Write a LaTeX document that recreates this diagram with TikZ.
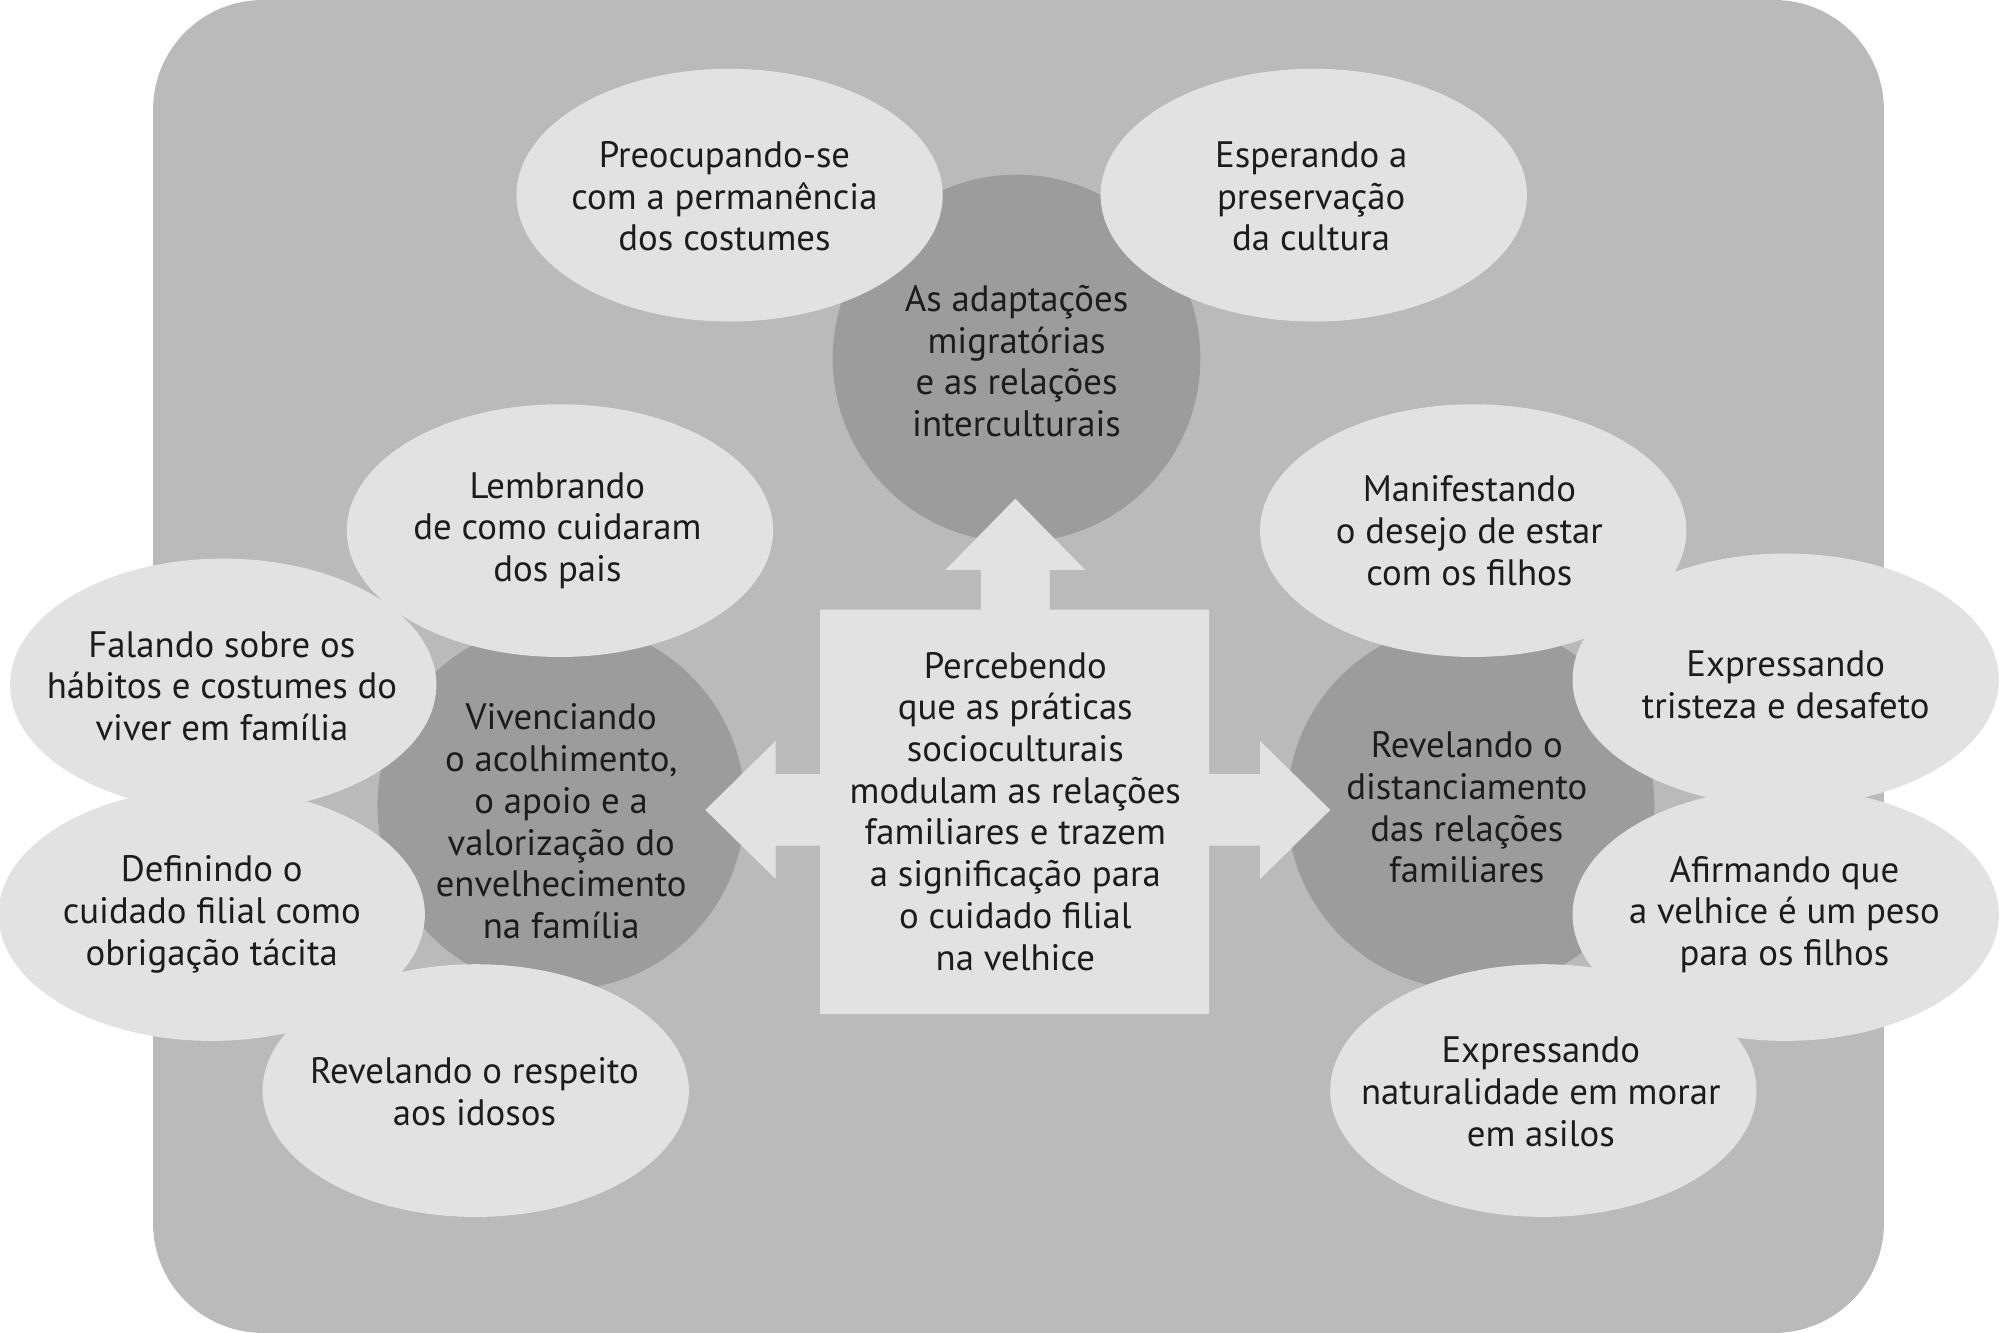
\documentclass[tikz,border=0pt]{standalone}
\usepackage{fontspec}
\setmainfont{PT Sans}
\usetikzlibrary{shapes.geometric}
\definecolor{bgc}{HTML}{BABABA}
\definecolor{lightc}{HTML}{E2E2E2}
\definecolor{darkc}{HTML}{9C9C9C}
\definecolor{txtc}{HTML}{1C1C1C}
\begin{document}
\begin{tikzpicture}[x=0.01cm,y=-0.01cm,
  lightell/.style={ellipse, fill=lightc, minimum width=3.34cm, minimum height=1.98cm, inner sep=0pt},
  darkcirc/.style={circle, fill=darkc, minimum size=2.88cm, inner sep=0pt},
  txt/.style={align=center, text=txtc, font=\fontsize{8.2}{9.3}\selectfont, inner sep=0pt}]
\useasboundingbox (0,0) rectangle (1568,1045);
\fill[bgc, rounded corners=0.86cm] (120,0) rectangle (1477,1045);
% dark circles
\node[darkcirc] (ctop) at (797,281) {};
\node[darkcirc] (cleft) at (440,632) {};
\node[darkcirc] (cright) at (1153,632) {};
% light ellipses
\node[lightell] (e1) at (572,153) {};
\node[lightell] (e2) at (1030,153) {};
\node[lightell] (e3) at (439,416) {};
\node[lightell] (e4) at (175,537) {};
\node[lightell] (e5) at (166,717) {};
\node[lightell] (e6) at (373,855) {};
\node[lightell] (e7) at (1155,416) {};
\node[lightell] (e8) at (1400,533) {};
\node[lightell] (e9) at (1400,717) {};
\node[lightell] (e10) at (1210,855) {};
% central box with three arrows
\fill[lightc] (643,478) -- (769,478) -- (769,447) -- (741,447) -- (796,391) -- (851,447) -- (823,447) -- (823,478) -- (948,478) -- (948,607) -- (988,607) -- (988,581) -- (1043,635) -- (988,689) -- (988,663) -- (948,663) -- (948,795) -- (643,795) -- (643,663) -- (608,663) -- (608,689) -- (553,635) -- (608,581) -- (608,607) -- (643,607) -- cycle;
% texts
\node[txt] (tctop) at (797,283) {As adaptações\\migratórias\\e as relações\\interculturais};
\node[txt] (tcleft) at (440,644) {Vivenciando\\o acolhimento,\\o apoio e a\\valorização do\\envelhecimento\\na família};
\node[txt] (tcright) at (1150,633) {Revelando o\\distanciamento\\das relações\\familiares};
\node[txt] (tbox) at (796,636) {Percebendo\\que as práticas\\socioculturais\\modulam as relações\\familiares e trazem\\a significação para\\o cuidado filial\\na velhice};
\node[txt] (t1) at (568,154) {Preocupando-se\\com a permanência\\dos costumes};
\node[txt] (t2) at (1028,154) {Esperando a\\preservação\\da cultura};
\node[txt] (t3) at (437,416) {Lembrando\\de como cuidaram\\dos pais};
\node[txt] (t4) at (174,538) {Falando sobre os\\hábitos e costumes do\\viver em família};
\node[txt] (t5) at (166,717) {Definindo o\\cuidado filial como\\obrigação tácita};
\node[txt] (t6) at (372,856) {Revelando o respeito\\aos idosos};
\node[txt] (t7) at (1152,416) {Manifestando\\o desejo de estar\\com os filhos};
\node[txt] (t8) at (1400,537) {Expressando\\tristeza e desafeto};
\node[txt] (t9) at (1399,717) {Afirmando que\\a velhice é um peso\\para os filhos};
\node[txt] (t10) at (1208,856) {Expressando\\naturalidade em morar\\em asilos};
\end{tikzpicture}
\end{document}
